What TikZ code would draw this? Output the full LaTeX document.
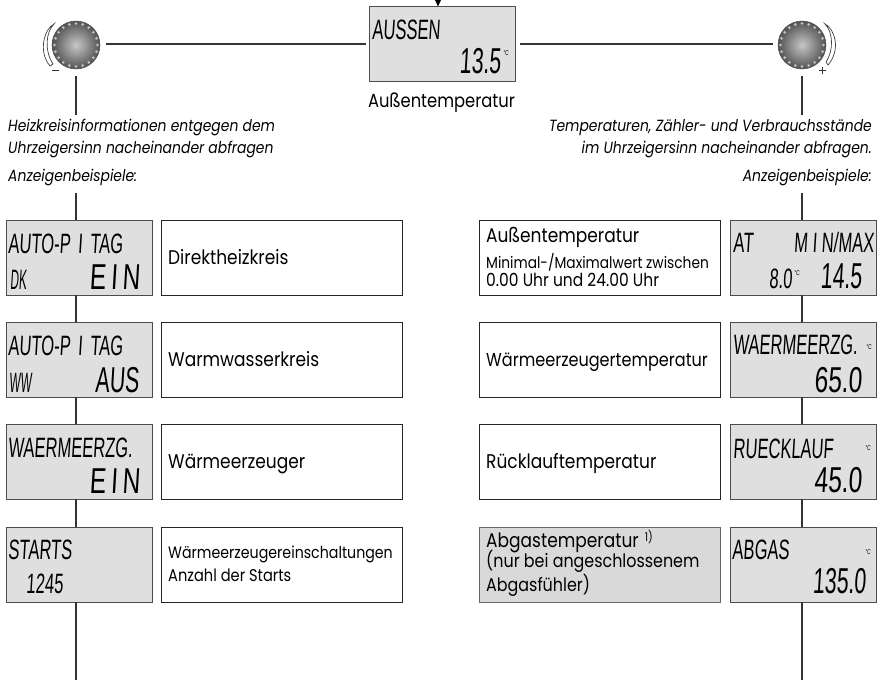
\documentclass[tikz,border=0pt]{standalone}
\usepackage{fontspec}
\setmainfont{Poppins}[FakeStretch=0.86]
\newfontfamily\lcdfont{Liberation Sans}[FakeStretch=0.68,FakeSlant=0.06]
\newfontfamily\lcdnarrow{Liberation Sans}[FakeStretch=0.59,FakeSlant=0.06]
\newfontfamily\lcdthin{Liberation Sans}[FakeStretch=0.42,FakeSlant=0.06]
\definecolor{lcdgray}{gray}{0.875}
\definecolor{framegray}{gray}{0.3}
\definecolor{notegray}{gray}{0.85}
\tikzset{
  x=1pt,y=-1pt,
  lcdbox/.style={draw=framegray,line width=1pt,fill=lcdgray,minimum width=146pt,minimum height=75pt,inner sep=0pt,outer sep=0pt},
  descbox/.style={draw=black!85,line width=.9pt,fill=white,minimum width=241pt,minimum height=75pt,inner sep=0pt,outer sep=0pt},
  link/.style={draw=black!80,line width=1.2pt},
  lcdhi/.style={anchor=base west,inner sep=0pt,font=\lcdnarrow\fontsize{28}{28}\selectfont},
  lcdlo/.style={anchor=base east,inner sep=0pt,font=\lcdfont\fontsize{36}{36}\selectfont},
  lcdlon/.style={anchor=base east,inner sep=0pt,font=\lcdnarrow\fontsize{36}{36}\selectfont},
  lcdsm/.style={anchor=base west,inner sep=0pt,font=\lcdnarrow\fontsize{28}{28}\selectfont},
  lcdss/.style={anchor=base west,inner sep=0pt,font=\lcdthin\fontsize{28}{28}\selectfont},
  unit/.style={anchor=center,inner sep=0pt,font=\lcdfont\fontsize{7}{7}\selectfont},
  desc/.style={anchor=base west,inner sep=0pt,align=left,font=\fontsize{19.8}{20}\selectfont},
  small/.style={anchor=base west,inner sep=0pt,align=left,font=\fontsize{16}{16}\selectfont},
  hint/.style={inner sep=0pt,font=\fontsize{16.2}{21}\selectfont\itshape},
}
\newcommand{\knob}[3]{%
  \node[circle,minimum size=48pt,inner sep=0pt,outer sep=0pt,draw=black!70,line width=.5pt,
    shading=radial,inner color=black!22,outer color=black!68] (#3) at (#1,#2) {};
  \foreach \a in {0,18,...,342}
    \fill[black!22,draw=black!55,line width=.25pt] (#3.center) ++(\a:21.5 and -21.5) circle (1.7pt);
}
\begin{document}
\begin{tikzpicture}
\useasboundingbox (0,0) rectangle (882,682);
% centre
\node[lcdbox] (c) at (442.5,44.5) {};
\fill[black] (435,0) -- (441,0) -- (438,6.5) -- cycle;
\node[lcdhi] (ct1) at (372,40) {AUSSEN};
\node[lcdlon] (ct2) at (501,74) {13.5};
\node[unit] (ct3) at (506,53) {°C};
\node[inner sep=0pt,anchor=base,font=\fontsize{19}{19}\selectfont] (ct4) at (441.5,107) {Außentemperatur};
% knobs
\knob{76}{45}{kl}
\knob{802}{45}{kr}
\coordinate (la) at (106,44); \coordinate (lb) at (366,44);
\coordinate (ra) at (520,44); \coordinate (rb) at (773,44);
\draw[link] (la) -- (lb);
\draw[link] (ra) -- (rb);
% turning arcs
\draw[black!75,line width=.7pt,fill=white] (54,24) .. controls (44,29) and (38,52) .. (50,66) -- (53,64) .. controls (44,50) and (46,32) .. cycle;
\draw[black!75,line width=.7pt,fill=white] (825,24) .. controls (835,29) and (841,50) .. (828,65) -- (826,62) .. controls (834,50) and (833,32) .. cycle;
\draw[black!80,line width=.8pt] (52,70.5) -- (59,70.5);
\draw[black!80,line width=.8pt] (819,70.5) -- (826,70.5) (822.5,67) -- (822.5,74);
% free line segments
\coordinate (lu1) at (76,76); \coordinate (lu2) at (76,115);
\coordinate (ru1) at (802,76); \coordinate (ru2) at (802,115);
\coordinate (lm) at (76,193); \coordinate (rm) at (802,193);
\coordinate (lb0) at (76,680); \coordinate (rb0) at (802,680);
\draw[link] (lu1) -- (lu2);
\draw[link] (ru1) -- (ru2);
% hints
\node[hint,anchor=base west,align=left] (hl) at (8,153) {Heizkreisinformationen entgegen dem\\Uhrzeigersinn nacheinander abfragen};
\node[hint,anchor=base west] (hl2) at (8,181) {Anzeigenbeispiele:};
\node[hint,anchor=base east,align=right] (hr) at (872,153) {Temperaturen, Zähler- und Verbrauchsstände\\im Uhrzeigersinn nacheinander abfragen.};
\node[hint,anchor=base east] (hr2) at (872,181) {Anzeigenbeispiele:};
% left column
\node[lcdbox] (l1) at (79,257.5) {};
\node[lcdbox] (l2) at (79,359.5) {};
\node[lcdbox] (l3) at (79,461.5) {};
\node[lcdbox] (l4) at (79,564.5) {};
\node[lcdhi] (l1a) at (8,253) {AUTO-P\hspace{3pt} I\hspace{3pt} TAG};
\node[lcdss] (l1b) at (10,289) {DK};
\node[lcdlo] (l1c) at (140,289) {E\hspace{-2pt} I\hspace{-2pt} N};
\node[lcdhi] (l2a) at (8,355) {AUTO-P\hspace{3pt} I\hspace{3pt} TAG};
\node[lcdss] (l2b) at (9,392) {WW};
\node[lcdlon] (l2c) at (139,392) {AUS};
\node[lcdhi] (l3a) at (8,457) {WAERMEERZG.};
\node[lcdlo] (l3c) at (140,493) {E\hspace{-2pt} I\hspace{-2pt} N};
\node[lcdhi] (l4a) at (8,559) {STARTS};
\node[lcdsm] (l4b) at (26,593) {1245};
\draw[link] (lm) -- (l1.north -| lm);
\draw[link] (l1.south -| lm) -- (l2.north -| lm);
\draw[link] (l2.south -| lm) -- (l3.north -| lm);
\draw[link] (l3.south -| lm) -- (l4.north -| lm);
\draw[link] (l4.south -| lm) -- (lb0);
\node[descbox] (d1) at (281.5,257.5) {};
\node[descbox] (d2) at (281.5,359.5) {};
\node[descbox] (d3) at (281.5,461.5) {};
\node[descbox] (d4) at (281.5,564.5) {};
\node[desc] at (168,264) (d1t) {Direktheizkreis};
\node[desc] at (168,366) (d2t) {Warmwasserkreis};
\node[desc] at (168,468) (d3t) {Wärmeerzeuger};
\node[desc,font=\fontsize{16.5}{17}\selectfont] at (168,558) (d4t) {Wärmeerzeugereinschaltungen};
\node[small,font=\fontsize{17}{17}\selectfont] at (168,581) (d4u) {Anzahl der Starts};
% right column
\node[lcdbox] (r1) at (803.5,257.5) {};
\node[lcdbox] (r2) at (803.5,359.5) {};
\node[lcdbox] (r3) at (803.5,461.5) {};
\node[lcdbox] (r4) at (803.5,564.5) {};
\node[lcdhi] (r1a) at (733,252) {AT};
\node[lcdhi,anchor=base east] (r1b) at (874,252) {M I N/MAX};
\node[lcdsm] (r1c) at (769,288) {8.0};
\node[unit] (r1u) at (797,273) {°C};
\node[lcdlon] (r1d) at (862,288) {14.5};
\node[lcdhi] (r2a) at (733,354) {WAERMEERZG.};
\node[unit] (r2u) at (869,347) {°C};
\node[lcdlo] (r2b) at (862,392) {65.0};
\node[lcdhi] (r3a) at (733,458) {RUECKLAUF};
\node[unit] (r3u) at (868,448) {°C};
\node[lcdlo] (r3b) at (862,492) {45.0};
\node[lcdhi] (r4a) at (732,559) {ABGAS};
\node[unit] (r4u) at (868,552) {°C};
\node[lcdlon] (r4b) at (866,593) {135.0};
\draw[link] (rm) -- (r1.north -| rm);
\draw[link] (r1.south -| rm) -- (r2.north -| rm);
\draw[link] (r2.south -| rm) -- (r3.north -| rm);
\draw[link] (r3.south -| rm) -- (r4.north -| rm);
\draw[link] (r4.south -| rm) -- (rb0);
\node[descbox] (e1) at (599.5,257.5) {};
\node[descbox] (e2) at (599.5,359.5) {};
\node[descbox] (e3) at (599.5,461.5) {};
\node[descbox,fill=notegray,draw=black!60] (e4) at (599.5,564.5) {};
\node[desc] at (486,242) (e1t) {Außentemperatur};
\node[small] at (486,268) (e1u) {Minimal-/Maximalwert zwischen};
\node[small,font=\fontsize{18}{18}\selectfont] at (486,286) (e1v) {0.00 Uhr und 24.00 Uhr};
\node[desc,font=\fontsize{18.7}{19}\selectfont] at (486,366) (e2t) {Wärmeerzeugertemperatur};
\node[desc] at (486,468) (e3t) {Rücklauftemperatur};
\node[desc] at (486,547) (e4t) {Abgastemperatur\hspace{6pt}\raisebox{6pt}{\fontsize{12}{12}\selectfont 1)}};
\node[desc,font=\fontsize{18.5}{18}\selectfont] at (486,591) (e4u) {(nur bei angeschlossenem\\Abgasfühler)};
\end{tikzpicture}
\end{document}
